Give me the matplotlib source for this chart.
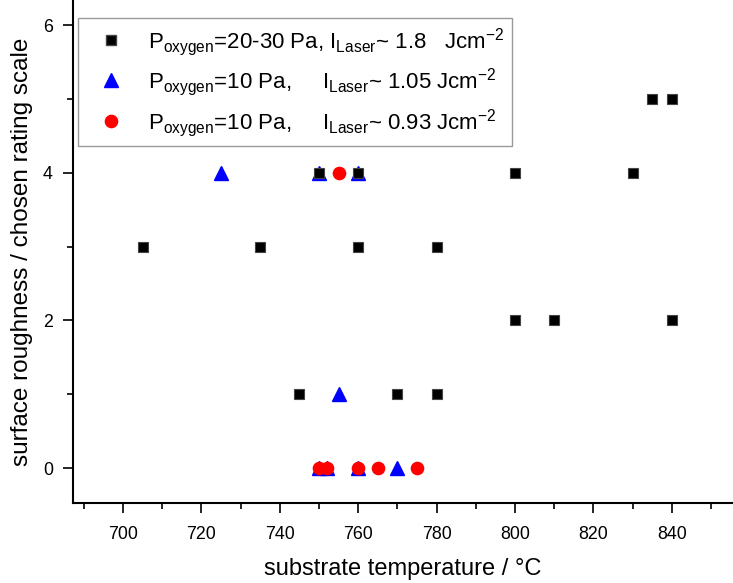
import matplotlib
matplotlib.use("Agg")
import matplotlib.pyplot as plt
from matplotlib.lines import Line2D

plt.rcParams['font.family'] = ['Liberation Sans', 'DejaVu Sans']
plt.rcParams['mathtext.fontset'] = 'custom'
plt.rcParams['mathtext.rm'] = 'Liberation Sans'
plt.rcParams['mathtext.it'] = 'Liberation Sans'
plt.rcParams['mathtext.bf'] = 'Liberation Sans:bold'

# Series 1: P_oxygen = 20-30 Pa, I_Laser ~ 1.8 Jcm^-2 (black squares)
black_T = [705, 735, 750, 760, 760, 780, 745, 770, 780, 800, 800, 810, 830, 835, 840, 840]
black_R = [3, 3, 4, 4, 3, 3, 1, 1, 1, 4, 2, 2, 4, 5, 5, 2]

# Series 2: P_oxygen = 10 Pa, I_Laser ~ 1.05 Jcm^-2 (blue triangles)
blue_T = [725, 750, 760, 755, 750, 752, 760, 770]
blue_R = [4, 4, 4, 1, 0, 0, 0, 0]

# Series 3: P_oxygen = 10 Pa, I_Laser ~ 0.93 Jcm^-2 (red circles)
red_T = [755, 750, 752, 760, 765, 775]
red_R = [4, 0, 0, 0, 0, 0]

labels = [
    r'P$_{\mathrm{oxygen}}$=20-30 Pa, I$_{\mathrm{Laser}}$~ 1.8   Jcm$^{\mathrm{-2}}$',
    r'P$_{\mathrm{oxygen}}$=10 Pa,     I$_{\mathrm{Laser}}$~ 1.05 Jcm$^{\mathrm{-2}}$',
    r'P$_{\mathrm{oxygen}}$=10 Pa,     I$_{\mathrm{Laser}}$~ 0.93 Jcm$^{\mathrm{-2}}$',
]
xticks = [700, 720, 740, 760, 780, 800, 820, 840]
yticks = [0, 2, 4, 6]

fig = plt.figure(figsize=(7.33, 5.83), dpi=100)
ax = fig.add_axes([73/733, 80/583, 1 - 73/733, 1 - 80/583])

ax.plot(blue_T, blue_R, linestyle='none', marker='^', ms=10, color='#0000ff',
        mec='#0000ff', zorder=3)
ax.plot(black_T, black_R, linestyle='none', marker='s', ms=7.6, color='black',
        mec='#444444', mew=0.8, zorder=4)
ax.plot(red_T, red_R, linestyle='none', marker='o', ms=8.8, color='#ff0000',
        mec='#ff0000', zorder=5)

ax.set_xlim(687.25, 855.6)
ax.set_ylim(-0.474, 6.339)
ax.set_xticks(xticks)
ax.set_xticks([x + 10 for x in [680] + xticks], minor=True)
ax.set_yticks(yticks)
ax.set_yticks([1, 3, 5], minor=True)

for s in ['top', 'right']:
    ax.spines[s].set_visible(False)
for s in ['left', 'bottom']:
    ax.spines[s].set_linewidth(1.5)

ax.tick_params(axis='both', which='major', direction='out', length=7.5, width=1.2,
               labelsize=12.8)
ax.tick_params(axis='x', which='major', pad=9)
ax.tick_params(axis='y', which='major', pad=7)
ax.tick_params(axis='both', which='minor', direction='out', length=4, width=1.2)

ax.set_xlabel('substrate temperature / °C', fontsize=17, labelpad=11)
ax.set_ylabel('surface roughness / chosen rating scale', fontsize=17.5, labelpad=7)

handles = [
    Line2D([], [], linestyle='none', marker='s', ms=7.6, color='black', mec='#444444'),
    Line2D([], [], linestyle='none', marker='^', ms=10, color='#0000ff'),
    Line2D([], [], linestyle='none', marker='o', ms=8.8, color='#ff0000'),
]
leg = ax.legend(handles, labels, loc='upper left',
                bbox_to_anchor=(77.7/733, 1 - 18/583), bbox_transform=fig.transFigure,
                borderaxespad=0, fontsize=16, handlelength=2.3, handletextpad=0.5,
                labelspacing=0.38, borderpad=0.35, fancybox=False, framealpha=1)
leg.get_frame().set_edgecolor('#999999')
leg.get_frame().set_linewidth(1.0)

fig.savefig('out.png', dpi=100)
